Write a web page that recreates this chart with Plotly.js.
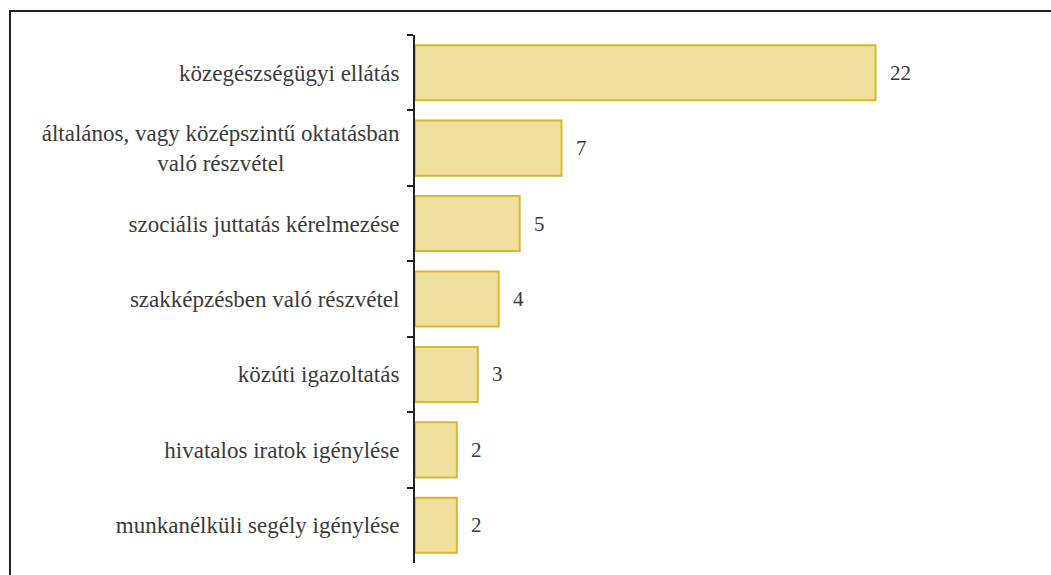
<!DOCTYPE html>
<html>
<head>
<meta charset="utf-8">
<script src="https://cdn.plot.ly/plotly-3.0.1.min.js"></script>
<style>
  html, body { margin: 0; padding: 0; background: #fff; }
  #wrap { position: relative; width: 1051px; height: 575px; overflow: hidden; }
  #chart { position: absolute; left: 0; top: 0; width: 1051px; height: 575px; }
  #frame { position: absolute; left: 9px; top: 10px; width: 1060px; height: 600px;
           border-top: 2px solid #222; border-left: 2px solid #222; pointer-events: none; }
</style>
</head>
<body>
<div id="wrap">
  <div id="chart"></div>
  <div id="frame"></div>
</div>
<script>
const categories = [
  "közegészségügyi ellátás",
  "általános, vagy középszintű oktatásban<br>való részvétel" + "\u00a0".repeat(20),
  "szociális juttatás kérelmezése",
  "szakképzésben való részvétel",
  "közúti igazoltatás",
  "hivatalos iratok igénylése",
  "munkanélküli segély igénylése"
];
const values = [22, 7, 5, 4, 3, 2, 2];

const FONT = "Liberation Serif, Times New Roman, serif";
const TXT = "#3a3a3a";

const trace = {
  type: "bar",
  orientation: "h",
  x: values,
  y: categories,
  marker: { color: "#f0e0a0", line: { color: "#d9b92c", width: 2 } },
  hoverinfo: "none"
};

const annotations = values.map((v, i) => ({
  x: v, y: categories[i], xref: "x", yref: "y",
  text: String(v), showarrow: false, xanchor: "left", xshift: 12,
  font: { family: FONT, size: 21, color: TXT }
}));

const layout = {
  width: 1051, height: 575,
  margin: { l: 415, r: 8, t: 35, b: 12 },
  paper_bgcolor: "rgba(0,0,0,0)", plot_bgcolor: "rgba(0,0,0,0)",
  bargap: 0.27,
  showlegend: false,
  xaxis: { visible: false, range: [0, 30], fixedrange: true },
  yaxis: {
    autorange: "reversed",
    showline: true, linecolor: "#222", linewidth: 2,
    ticks: "outside", tickson: "boundaries", ticklen: 6, tickwidth: 2, tickcolor: "#222",
    ticklabelstandoff: 9,
    showgrid: false, zeroline: false,
    tickfont: { family: FONT, size: 23, color: TXT },
    fixedrange: true
  },
  annotations: annotations
};

Plotly.newPlot("chart", [trace], layout, { displayModeBar: false, staticPlot: true });
</script>
</body>
</html>
